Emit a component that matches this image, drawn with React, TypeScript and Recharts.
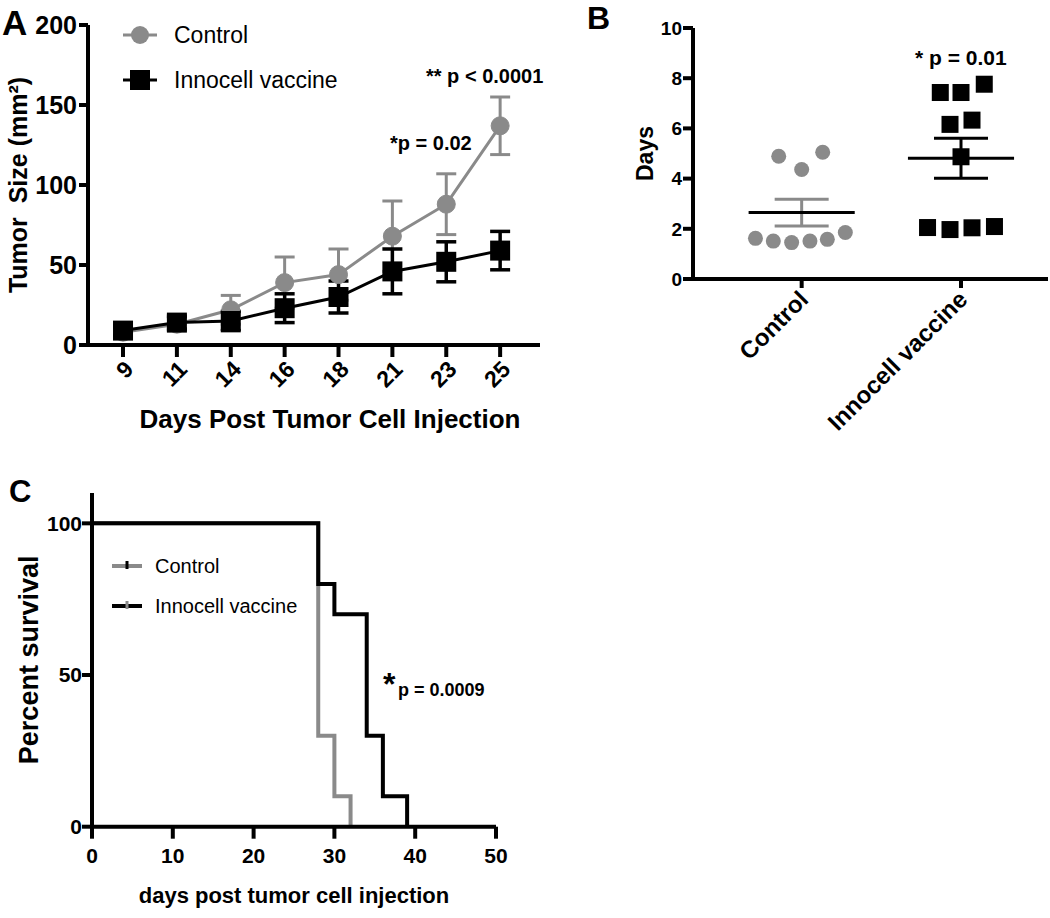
import React from 'react';
import { LineChart, Line, XAxis, YAxis, ErrorBar, ScatterChart, Scatter, ReferenceLine } from 'recharts';

const FONT = '"Liberation Sans", Arial, Helvetica, sans-serif';
const GRAY = '#8a8a8a';
const BLACK = '#000';

// Panel A: tumor size over time (mean +/- SEM)
const days = ['9', '11', '14', '16', '18', '21', '23', '25'];
const controlSize = [8, 13, 22, 39, 44, 68, 88, 137];
const controlErr = [3, 4, 9, 16, 16, 22, 19, 18];
const vaccineSize = [9, 14, 15, 23, 30, 46, 52, 59];
const vaccineErr = [3, 4, 6, 9, 10, 14, 12.5, 12];
const sizeTicks = [0, 50, 100, 150, 200];

// Panel B: days per animal
const groups = ['Control', 'Innocell vaccine'];
const controlDays = [4.89, 5.05, 4.36, 1.62, 1.51, 1.45, 1.51, 1.58, 1.85];
const controlJitter = [-0.144, 0.132, 0, -0.29, -0.178, -0.063, 0.052, 0.161, 0.274];
const vaccineDays = [7.43, 7.43, 7.76, 6.16, 6.33, 4.87, 2.05, 1.97, 2.04, 2.09];
const vaccineJitter = [-0.13, 0, 0.146, -0.069, 0.069, 0, -0.21, -0.069, 0.069, 0.21];
const daysTicks = [0, 2, 4, 6, 8, 10];

// Panel C: survival
const ctrlSurvDay = [0, 28, 30, 32];
const ctrlSurvPct = [100, 30, 10, 0];
const vacSurvDay = [0, 28, 30, 34, 36, 39];
const vacSurvPct = [100, 80, 70, 30, 10, 0];
const survXTicks = [0, 10, 20, 30, 40, 50];
const survYTicks = [0, 50, 100];

const growthData = days.map((d, i) => ({
  i,
  day: d,
  ctrl: controlSize[i],
  ctrlErr: controlErr[i],
  vac: vaccineSize[i],
  vacErr: vaccineErr[i],
}));

const ctrlPoints = controlDays.map((y, i) => ({ x: controlJitter[i], y }));
const vacPoints = vaccineDays.map((y, i) => ({ x: 1 + vaccineJitter[i], y }));

const meanSem = (vals: number[]) => {
  const m = vals.reduce((a, b) => a + b, 0) / vals.length;
  const sd = Math.sqrt(vals.reduce((a, b) => a + (b - m) * (b - m), 0) / (vals.length - 1));
  return { m, sem: sd / Math.sqrt(vals.length) };
};
const ctrlStats = meanSem(controlDays);
const vacStats = meanSem(vaccineDays);

const ctrlSurv = ctrlSurvDay.map((d, i) => ({ day: d, pct: ctrlSurvPct[i] }));
const vacSurv = vacSurvDay.map((d, i) => ({ day: d, pct: vacSurvPct[i] }));

const axisStyle = { stroke: BLACK, strokeWidth: 4 };
const tickFont = (size: number) => ({ fontSize: size, fontWeight: 700, fill: BLACK, fontFamily: FONT });

const SlantTick = ({ x, y, payload, names, size, dx = 4, dy = 4 }: any) => {
  const tx = x + dx;
  const ty = y + dy;
  return (
    <text
      x={tx}
      y={ty}
      transform={`rotate(-45, ${tx}, ${ty})`}
      textAnchor="end"
      dy="0.35em"
      fontSize={size}
      fontWeight={700}
      fontFamily={FONT}
      fill={BLACK}
    >
      {names[payload.value]}
    </text>
  );
};

const SquareDot = (props: any) => {
  const { cx, cy, index } = props;
  return <rect key={`sq-${index}`} x={cx - 10} y={cy - 10} width={20} height={20} fill={BLACK} />;
};

const TumorGrowth = () => (
  <LineChart width={560} height={440} data={growthData} margin={{ top: 25, right: 20, left: 0, bottom: 0 }}>
    <XAxis
      dataKey="i"
      type="number"
      domain={[-0.65, 7.74]}
      ticks={days.map((_, i) => i)}
      height={95}
      axisLine={axisStyle}
      tickLine={axisStyle}
      tickSize={12}
      tick={(p: any) => <SlantTick {...p} names={days} size={23} dx={6} dy={6} />}
      label={{
        value: 'Days Post Tumor Cell Injection',
        position: 'insideBottom',
        offset: 12,
        dx: 16,
        style: { ...tickFont(26) },
      }}
    />
    <YAxis
      type="number"
      domain={[0, 200]}
      ticks={sizeTicks}
      width={88}
      axisLine={axisStyle}
      tickLine={axisStyle}
      tickSize={9}
      tickMargin={2}
      tick={tickFont(25)}
      label={{
        value: 'Tumor\u00A0 Size (mm²)',
        angle: -90,
        position: 'insideLeft',
        offset: 18,
        style: { ...tickFont(25), textAnchor: 'middle' },
      }}
    />
    <Line
      dataKey="ctrl"
      stroke={GRAY}
      strokeWidth={3}
      dot={{ r: 9, fill: GRAY, stroke: GRAY, strokeWidth: 1 }}
      isAnimationActive={false}
    >
      <ErrorBar dataKey="ctrlErr" width={10} stroke={GRAY} strokeWidth={3} direction="y" />
    </Line>
    <Line dataKey="vac" stroke={BLACK} strokeWidth={3} dot={SquareDot} isAnimationActive={false}>
      <ErrorBar dataKey="vacErr" width={10} stroke={BLACK} strokeWidth={3.5} direction="y" />
    </Line>
  </LineChart>
);

const DaysScatter = () => (
  <ScatterChart width={450} height={470} margin={{ top: 28, right: 2, left: 0, bottom: 0 }}>
    <XAxis
      dataKey="x"
      type="number"
      domain={[-0.682, 1.546]}
      ticks={[0, 1]}
      height={191}
      axisLine={axisStyle}
      tickLine={axisStyle}
      tickSize={9}
      tick={(p: any) => <SlantTick {...p} names={groups} size={24} dx={2} dy={5} />}
    />
    <YAxis
      dataKey="y"
      type="number"
      domain={[0, 10]}
      ticks={daysTicks}
      width={93}
      axisLine={axisStyle}
      tickLine={axisStyle}
      tickSize={10}
      tickMargin={1}
      tick={tickFont(19)}
      label={{
        value: 'Days',
        angle: -90,
        position: 'insideLeft',
        offset: 45,
        style: { ...tickFont(23), textAnchor: 'middle' },
      }}
    />
    <Scatter
      data={ctrlPoints}
      shape={(p: any) => <circle cx={p.cx} cy={p.cy} r={7.5} fill={GRAY} />}
      isAnimationActive={false}
    />
    <Scatter
      data={vacPoints}
      shape={(p: any) => <rect x={p.cx - 8.5} y={p.cy - 8.5} width={17} height={17} fill={BLACK} />}
      isAnimationActive={false}
    />
    <Scatter data={[{ x: 0, y: ctrlStats.m, err: ctrlStats.sem }]} shape={() => <g />} isAnimationActive={false}>
      <ErrorBar dataKey="err" direction="y" width={27} stroke={GRAY} strokeWidth={3} />
    </Scatter>
    <Scatter data={[{ x: 1, y: vacStats.m, err: vacStats.sem }]} shape={() => <g />} isAnimationActive={false}>
      <ErrorBar dataKey="err" direction="y" width={27} stroke={BLACK} strokeWidth={3} />
    </Scatter>
    <ReferenceLine
      segment={[{ x: -0.333, y: ctrlStats.m }, { x: 0.333, y: ctrlStats.m }]}
      stroke={BLACK}
      strokeWidth={3}
    />
    <ReferenceLine
      segment={[{ x: 0.667, y: vacStats.m }, { x: 1.333, y: vacStats.m }]}
      stroke={BLACK}
      strokeWidth={3}
    />
  </ScatterChart>
);

const Survival = () => (
  <LineChart width={560} height={458} margin={{ top: 33, right: 64, left: 0, bottom: 0 }}>
    <XAxis
      dataKey="day"
      type="number"
      domain={[0, 50]}
      ticks={survXTicks}
      height={91.3}
      axisLine={axisStyle}
      tickLine={axisStyle}
      tickSize={12}
      tickMargin={9}
      tick={tickFont(21)}
      label={{ value: 'days post tumor cell injection', position: 'insideBottom', offset: 15, style: tickFont(22) }}
    />
    <YAxis
      type="number"
      domain={[0, 110]}
      ticks={survYTicks}
      width={92}
      axisLine={axisStyle}
      tickLine={axisStyle}
      tickSize={10}
      tickMargin={0}
      tick={tickFont(21)}
      label={{
        value: 'Percent survival',
        angle: -90,
        position: 'insideLeft',
        offset: 28,
        style: { ...tickFont(27), textAnchor: 'middle' },
      }}
    />
    <Line data={ctrlSurv} dataKey="pct" type="stepAfter" stroke={GRAY} strokeWidth={4} dot={false} isAnimationActive={false} />
    <Line data={vacSurv} dataKey="pct" type="stepAfter" stroke={BLACK} strokeWidth={4} dot={false} isAnimationActive={false} />
  </LineChart>
);

const Overlay = () => (
  <svg width={1050} height={918} style={{ position: 'absolute', left: 0, top: 0, pointerEvents: 'none' }} fontFamily={FONT}>
    {/* panel letters */}
    <text x={2} y={35} fontSize={35} fontWeight={700}>A</text>
    <text x={587} y={29} fontSize={32} fontWeight={700}>B</text>
    <text x={9} y={502} fontSize={31} fontWeight={700}>C</text>

    {/* legend A */}
    <line x1={123} y1={35} x2={157} y2={35} stroke={GRAY} strokeWidth={3} />
    <circle cx={140} cy={35} r={9} fill={GRAY} />
    <text x={174} y={43} fontSize={23}>Control</text>
    <line x1={123} y1={80} x2={157} y2={80} stroke={BLACK} strokeWidth={3} />
    <rect x={130} y={70} width={20} height={20} fill={BLACK} />
    <text x={174} y={88} fontSize={23}>Innocell vaccine</text>

    {/* annotations A */}
    <text x={426} y={83} fontSize={20} fontWeight={700}>** p &lt; 0.0001</text>
    <text x={390} y={150} fontSize={20} fontWeight={700}>*p = 0.02</text>

    {/* annotation B */}
    <text x={915} y={65} fontSize={21} fontWeight={700}>* p = 0.01</text>

    {/* legend C */}
    <line x1={112} y1={566} x2={142} y2={566} stroke={GRAY} strokeWidth={4} />
    <line x1={127} y1={561} x2={127} y2={569} stroke={BLACK} strokeWidth={3} />
    <text x={155} y={573} fontSize={20}>Control</text>
    <line x1={112} y1={606} x2={142} y2={606} stroke={BLACK} strokeWidth={4} />
    <line x1={127} y1={601} x2={127} y2={609} stroke={GRAY} strokeWidth={3} />
    <text x={155} y={613} fontSize={20}>Innocell vaccine</text>

    {/* annotation C */}
    <text x={383} y={695} fontSize={32} fontWeight={700}>*</text>
    <text x={398} y={696} fontSize={18} fontWeight={700}>p = 0.0009</text>
  </svg>
);

export default function App() {
  return (
    <div style={{ position: 'absolute', left: 0, top: 0, width: 1050, height: 918, background: '#fff', fontFamily: FONT }}>
      <div style={{ position: 'absolute', left: 0, top: 0 }}>
        <TumorGrowth />
      </div>
      <div style={{ position: 'absolute', left: 600, top: 0 }}>
        <DaysScatter />
      </div>
      <div style={{ position: 'absolute', left: 0, top: 460 }}>
        <Survival />
      </div>
      <Overlay />
    </div>
  );
}
